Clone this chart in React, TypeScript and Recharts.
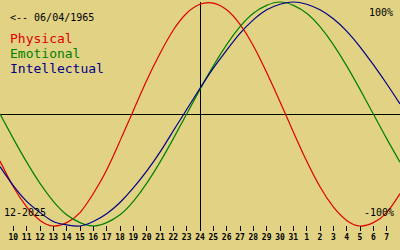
import { LineChart, Line, XAxis, YAxis, ReferenceLine } from "recharts"

// day index 0 = Dec 9 ... 30 = Jan 8
const dayLabels = [
    "9", "10", "11", "12", "13", "14", "15", "16", "17", "18", "19", "20", "21", "22", "23", "24",
    "25", "26", "27", "28", "29", "30", "31", "1", "2", "3", "4", "5", "6", "7", "8",
]
const tickIdx = [1, 2, 3, 4, 5, 6, 7, 8, 9, 10, 11, 12, 13, 14, 15, 16, 17, 18, 19, 20, 21, 22, 23, 24, 25, 26, 27, 28, 29]

const physical = [
    -0.42, -0.65, -0.83, -0.95, -1.0, -0.97, -0.88, -0.71, -0.5, -0.24, 0.03, 0.3, 0.54, 0.75, 0.9, 0.98,
    0.99, 0.93, 0.8, 0.61, 0.37, 0.11, -0.16, -0.42, -0.65, -0.83, -0.95, -1.0, -0.97, -0.88, -0.71,
]
const emotional = [
    0, -0.22, -0.43, -0.62, -0.78, -0.9, -0.97, -1.0, -0.97, -0.9, -0.78, -0.62, -0.43, -0.22, 0, 0.22,
    0.43, 0.62, 0.78, 0.9, 0.97, 1.0, 0.97, 0.9, 0.78, 0.62, 0.43, 0.22, 0, -0.22, -0.43,
]
const intellectual = [
    -0.47, -0.64, -0.78, -0.88, -0.96, -0.99, -1.0, -0.96, -0.89, -0.79, -0.66, -0.51, -0.34, -0.15, 0.04, 0.23,
    0.41, 0.57, 0.72, 0.84, 0.93, 0.98, 1.0, 0.98, 0.93, 0.85, 0.74, 0.6, 0.44, 0.27, 0.09,
]

const data = dayLabels.map((d, i) => ({ i, d, p: physical[i], e: emotional[i], n: intellectual[i] }))

const RED = "#e00000"
const GREEN = "#008000"
const BLUE = "#000088"
const mono = "'DejaVu Sans Mono', monospace"

export default function App() {
    return (
        <div style={{ position: "absolute", left: 0, top: 0, width: 400, height: 250, background: "#e1d284", overflow: "hidden" }}>
            <LineChart width={400} height={250} data={data} margin={{ top: 2, right: 0, left: 0, bottom: 0 }}>
                <XAxis
                    dataKey="i"
                    type="number"
                    domain={[0, 30]}
                    ticks={tickIdx}
                    tickFormatter={(v) => dayLabels[v]}
                    axisLine={false}
                    tickLine={{ stroke: "#000", shapeRendering: "crispEdges" }}
                    stroke="#000"
                    tickSize={5}
                    tickMargin={3}
                    height={24}
                    interval={0}
                    tick={{ fill: "#000", fontSize: 8, fontWeight: "bold", fontFamily: mono }}
                />
                <YAxis hide domain={[-1, 1]} />
                <ReferenceLine y={0} stroke="#000" strokeWidth={1} shapeRendering="crispEdges" />
                <ReferenceLine x={15} stroke="#000" strokeWidth={1} shapeRendering="crispEdges" />
                <Line dataKey="p" type="natural" stroke={RED} strokeWidth={1.2} dot={false} isAnimationActive={false} />
                <Line dataKey="e" type="natural" stroke={GREEN} strokeWidth={1.2} dot={false} isAnimationActive={false} />
                <Line dataKey="n" type="natural" stroke={BLUE} strokeWidth={1.2} dot={false} isAnimationActive={false} />
            </LineChart>
            <svg width={400} height={250} style={{ position: "absolute", left: 0, top: 0, pointerEvents: "none" }}>
                <g fontFamily={mono}>
                    <text x={10} y={20.5} fontSize={10} fill="#000">{"<-- 06/04/1965"}</text>
                    <text x={10} y={42.5} fontSize={13} fill={RED}>Physical</text>
                    <text x={10} y={57.5} fontSize={13} fill={GREEN}>Emotional</text>
                    <text x={10} y={72.5} fontSize={13} fill={BLUE}>Intellectual</text>
                    <text x={393} y={16} fontSize={10} fill="#000" textAnchor="end">100%</text>
                    <text x={394} y={216} fontSize={10} fill="#000" textAnchor="end">-100%</text>
                    <text x={4} y={216} fontSize={10} fill="#000">12-2025</text>
                </g>
            </svg>
        </div>
    )
}
